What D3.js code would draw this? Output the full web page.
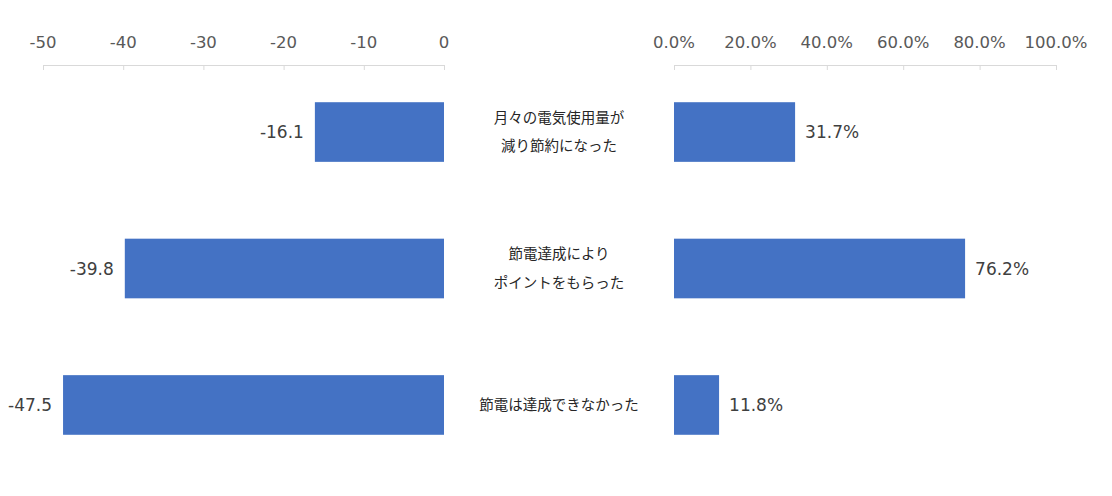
<!DOCTYPE html>
<html><head><meta charset="utf-8">
<script src="https://cdn.jsdelivr.net/npm/d3@7"></script>
<style>body{margin:0;background:#fff;}svg{display:block;}</style>
</head><body>
<svg id="c" width="1112" height="496"></svg>
<script>
const categories = [["月々の電気使用量が","減り節約になった"],["節電達成により","ポイントをもらった"],["節電は達成できなかった"]];
const leftValues = [-16.1, -39.8, -47.5];
const rightValues = [0.317, 0.762, 0.118];
const leftTicks = [-50,-40,-30,-20,-10,0];
const rightTicks = [0,0.2,0.4,0.6,0.8,1.0];

const svg = d3.select("#c");
const numFont = "'DejaVu Sans', Verdana, sans-serif";
const jpFont = "'Noto Sans CJK JP', sans-serif";
const barColor = "#4472C4";
const y = d3.scaleBand().domain(d3.range(categories.length)).range([64, 473]).paddingInner(0.563).paddingOuter(0.28);
const xL = d3.scaleLinear().domain([-50,0]).range([43,444]);
const xR = d3.scaleLinear().domain([0,1]).range([674,1056]);
const axisY = 65;

function drawAxis(scale, ticks, fmt){
  const g = svg.append("g").attr("transform",`translate(0,${axisY})`)
    .call(d3.axisBottom(scale).tickValues(ticks).tickSizeOuter(0).tickSizeInner(5).tickFormat(()=>""));
  g.select(".domain").attr("stroke","#d9d9d9");
  g.selectAll(".tick line").attr("stroke","#d9d9d9");
  svg.append("g").selectAll("text").data(ticks).join("text")
    .attr("x",scale).attr("y",48).attr("text-anchor","middle")
    .attr("font-family",numFont).attr("font-size",16.5).attr("fill","#595959")
    .text(fmt);
}
drawAxis(xL, leftTicks, d=>d3.format("d")(d).replace("−","-"));
drawAxis(xR, rightTicks, d=>d3.format(".1%")(d));

svg.append("g").selectAll("rect").data(leftValues).join("rect")
  .attr("x",d=>xL(d)).attr("width",d=>xL(0)-xL(d))
  .attr("y",(d,i)=>y(i)).attr("height",y.bandwidth()).attr("fill",barColor);
svg.append("g").selectAll("rect").data(rightValues).join("rect")
  .attr("x",xR(0)).attr("width",d=>xR(d)-xR(0))
  .attr("y",(d,i)=>y(i)).attr("height",y.bandwidth()).attr("fill",barColor);

svg.append("g").selectAll("text").data(leftValues).join("text")
  .attr("x",d=>xL(d)-11).attr("y",(d,i)=>y(i)+y.bandwidth()/2).attr("dy","0.36em")
  .attr("text-anchor","end").attr("font-family",numFont).attr("font-size",17).attr("fill","#404040")
  .text(d=>d.toFixed(1));
svg.append("g").selectAll("text").data(rightValues).join("text")
  .attr("x",d=>xR(d)+10).attr("y",(d,i)=>y(i)+y.bandwidth()/2).attr("dy","0.36em")
  .attr("text-anchor","start").attr("font-family",numFont).attr("font-size",17).attr("fill","#404040")
  .text(d=>d3.format(".1%")(d));

const cg = svg.append("g").selectAll("text").data(categories).join("text")
  .attr("x",559).attr("y",(d,i)=>y(i)+y.bandwidth()/2)
  .attr("text-anchor","middle").attr("font-family",jpFont).attr("font-size",14.5).attr("fill","#262626");
cg.each(function(lines){
  const t = d3.select(this);
  const lh = 28.5;
  lines.forEach((l,k)=>{
    t.append("tspan").attr("x",559)
     .attr("dy", k===0 ? ((-(lines.length-1)*lh/2)+5)+"px" : lh+"px")
     .text(l);
  });
});
</script>
</body></html>
